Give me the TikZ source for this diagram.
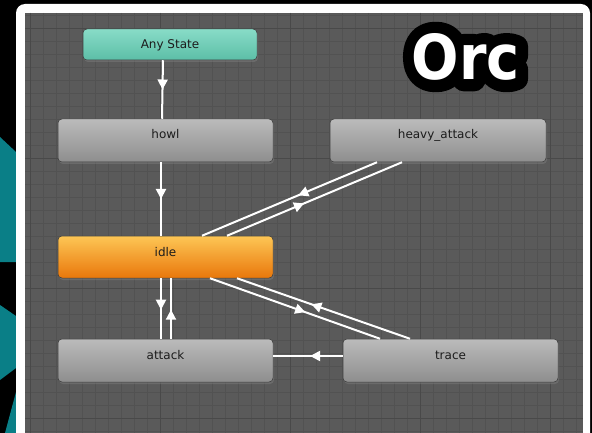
\documentclass[tikz,border=0pt]{standalone}
\usepackage{fontspec}
\setmainfont{DejaVu Sans}
\newfontfamily\orcfont[FakeStretch=0.9]{DejaVu Sans}
\newfontfamily\orcline[FakeStretch=0.9,BoldFeatures={FakeBold=38}]{DejaVu Sans}
\usetikzlibrary{arrows.meta,decorations.markings,shadows,calc}
\definecolor{gridbg}{HTML}{5A5A5A}
\definecolor{gridminor}{HTML}{525252}
\definecolor{gridmajor}{HTML}{494949}
\definecolor{tealdeco}{HTML}{0A7F87}
\definecolor{anytop}{HTML}{88DCC7}
\definecolor{anybot}{HTML}{5CBEA7}
\definecolor{greytop}{HTML}{BBBBBB}
\definecolor{greybot}{HTML}{8E8E8E}
\definecolor{idletop}{HTML}{FDC655}
\definecolor{idlebot}{HTML}{E9770B}
\definecolor{nodeedge}{HTML}{3C3C3C}
\definecolor{labeltext}{HTML}{1C1C1C}
\begin{document}
\begin{tikzpicture}[x=1pt,y=-1pt,
  statebox/.style={rectangle, rounded corners=4pt, inner sep=0pt,
    minimum width=215pt, text height=20pt, text depth=23pt,
    draw=nodeedge, line width=0.5pt, top color=greytop, bottom color=greybot,
    text=labeltext, font=\fontsize{12}{14}\selectfont,
    drop shadow={shadow xshift=1pt, shadow yshift=-2pt, opacity=0.45}},
  conn/.style={draw=white, line width=2pt},
  midarrow/.style={postaction={decorate, decoration={markings,
    mark=at position #1 with {\arrow{Triangle[width=10pt,length=10pt]}}}}},
  minorline/.style={draw=gridminor, line width=0.6pt},
  majorline/.style={draw=gridmajor, line width=0.9pt}]
\useasboundingbox (0,0) rectangle (592,433);
% outer background
\fill[black] (0,0) rectangle (592,433);
\fill[tealdeco] (0,137) -- (16,152) -- (16,262) -- (0,262) -- cycle;
\fill[tealdeco] (0,305) -- (16,316) -- (16,368) -- (0,380) -- cycle;
\fill[tealdeco] (16,392) -- (16,433) -- (5,433) -- cycle;
% white frame
\fill[white, rounded corners=9pt] (16,4) rectangle (590,460);
% grid area
\fill[gridbg] (25,13) rectangle (583,433);
\begin{scope}
  \clip (25,13) rectangle (583,433);
  \foreach \i in {0,...,43} \draw[minorline] (17+13*\i,13) -- (17+13*\i,433);
  \foreach \j in {0,...,32} \draw[minorline] (25,15+13*\j) -- (583,15+13*\j);
  \foreach \i in {30,160,290,420,550} \draw[majorline] (\i,13) -- (\i,433);
  \foreach \j in {28,158,288,418} \draw[majorline] (25,\j) -- (583,\j);
\end{scope}
% states
\node[statebox, minimum width=174pt, text height=20pt, text depth=11pt,
      top color=anytop, bottom color=anybot] (any) at (170,44.5) {Any State};
\node[statebox] (howl) at (165.5,140.5) {howl};
\node[statebox, minimum width=216pt] (heavy) at (438,140.5) {heavy\_attack};
\node[statebox, text depth=22pt, top color=idletop, bottom color=idlebot] (idle) at (165.5,257) {idle};
\node[statebox] (attack) at (165.5,360.5) {attack};
\node[statebox] (trace) at (450.5,360.5) {trace};
% transitions
\draw[conn, midarrow=0.5] ([xshift=-7pt]any.south) -- ([xshift=-3.5pt]howl.north);
\draw[conn, midarrow=0.5] ([xshift=-4.5pt]howl.south) -- ([xshift=-4.5pt]idle.north);
\draw[conn, midarrow=0.52] ([xshift=-4.5pt]idle.south) -- ([xshift=-4.5pt]attack.north);
\draw[conn, midarrow=0.48] ([xshift=5.5pt]attack.north) -- ([xshift=5.5pt]idle.south);
\draw[conn, midarrow=0.45] ([xshift=-61pt]heavy.south) -- ([xshift=36.5pt]idle.north);
\draw[conn, midarrow=0.44] ([xshift=61.5pt]idle.north) -- ([xshift=-36pt]heavy.south);
\draw[conn, midarrow=0.56] ([xshift=44.5pt]idle.south) -- ([xshift=-70.5pt]trace.north);
\draw[conn, midarrow=0.57] ([xshift=-40.5pt]trace.north) -- ([xshift=71.5pt]idle.south);
\draw[conn, midarrow=0.47] ([yshift=4.5pt]trace.west) -- ([yshift=4.5pt]attack.east);
% title
\node[font=\orcline\bfseries\fontsize{62}{62}\selectfont, text=black, inner sep=0pt, line join=round] (orcback) at (466,57) {Orc};
\node[font=\orcfont\bfseries\fontsize{62}{62}\selectfont, text=white, inner sep=0pt] (orc) at (466,57) {Orc};
\end{tikzpicture}
\end{document}
